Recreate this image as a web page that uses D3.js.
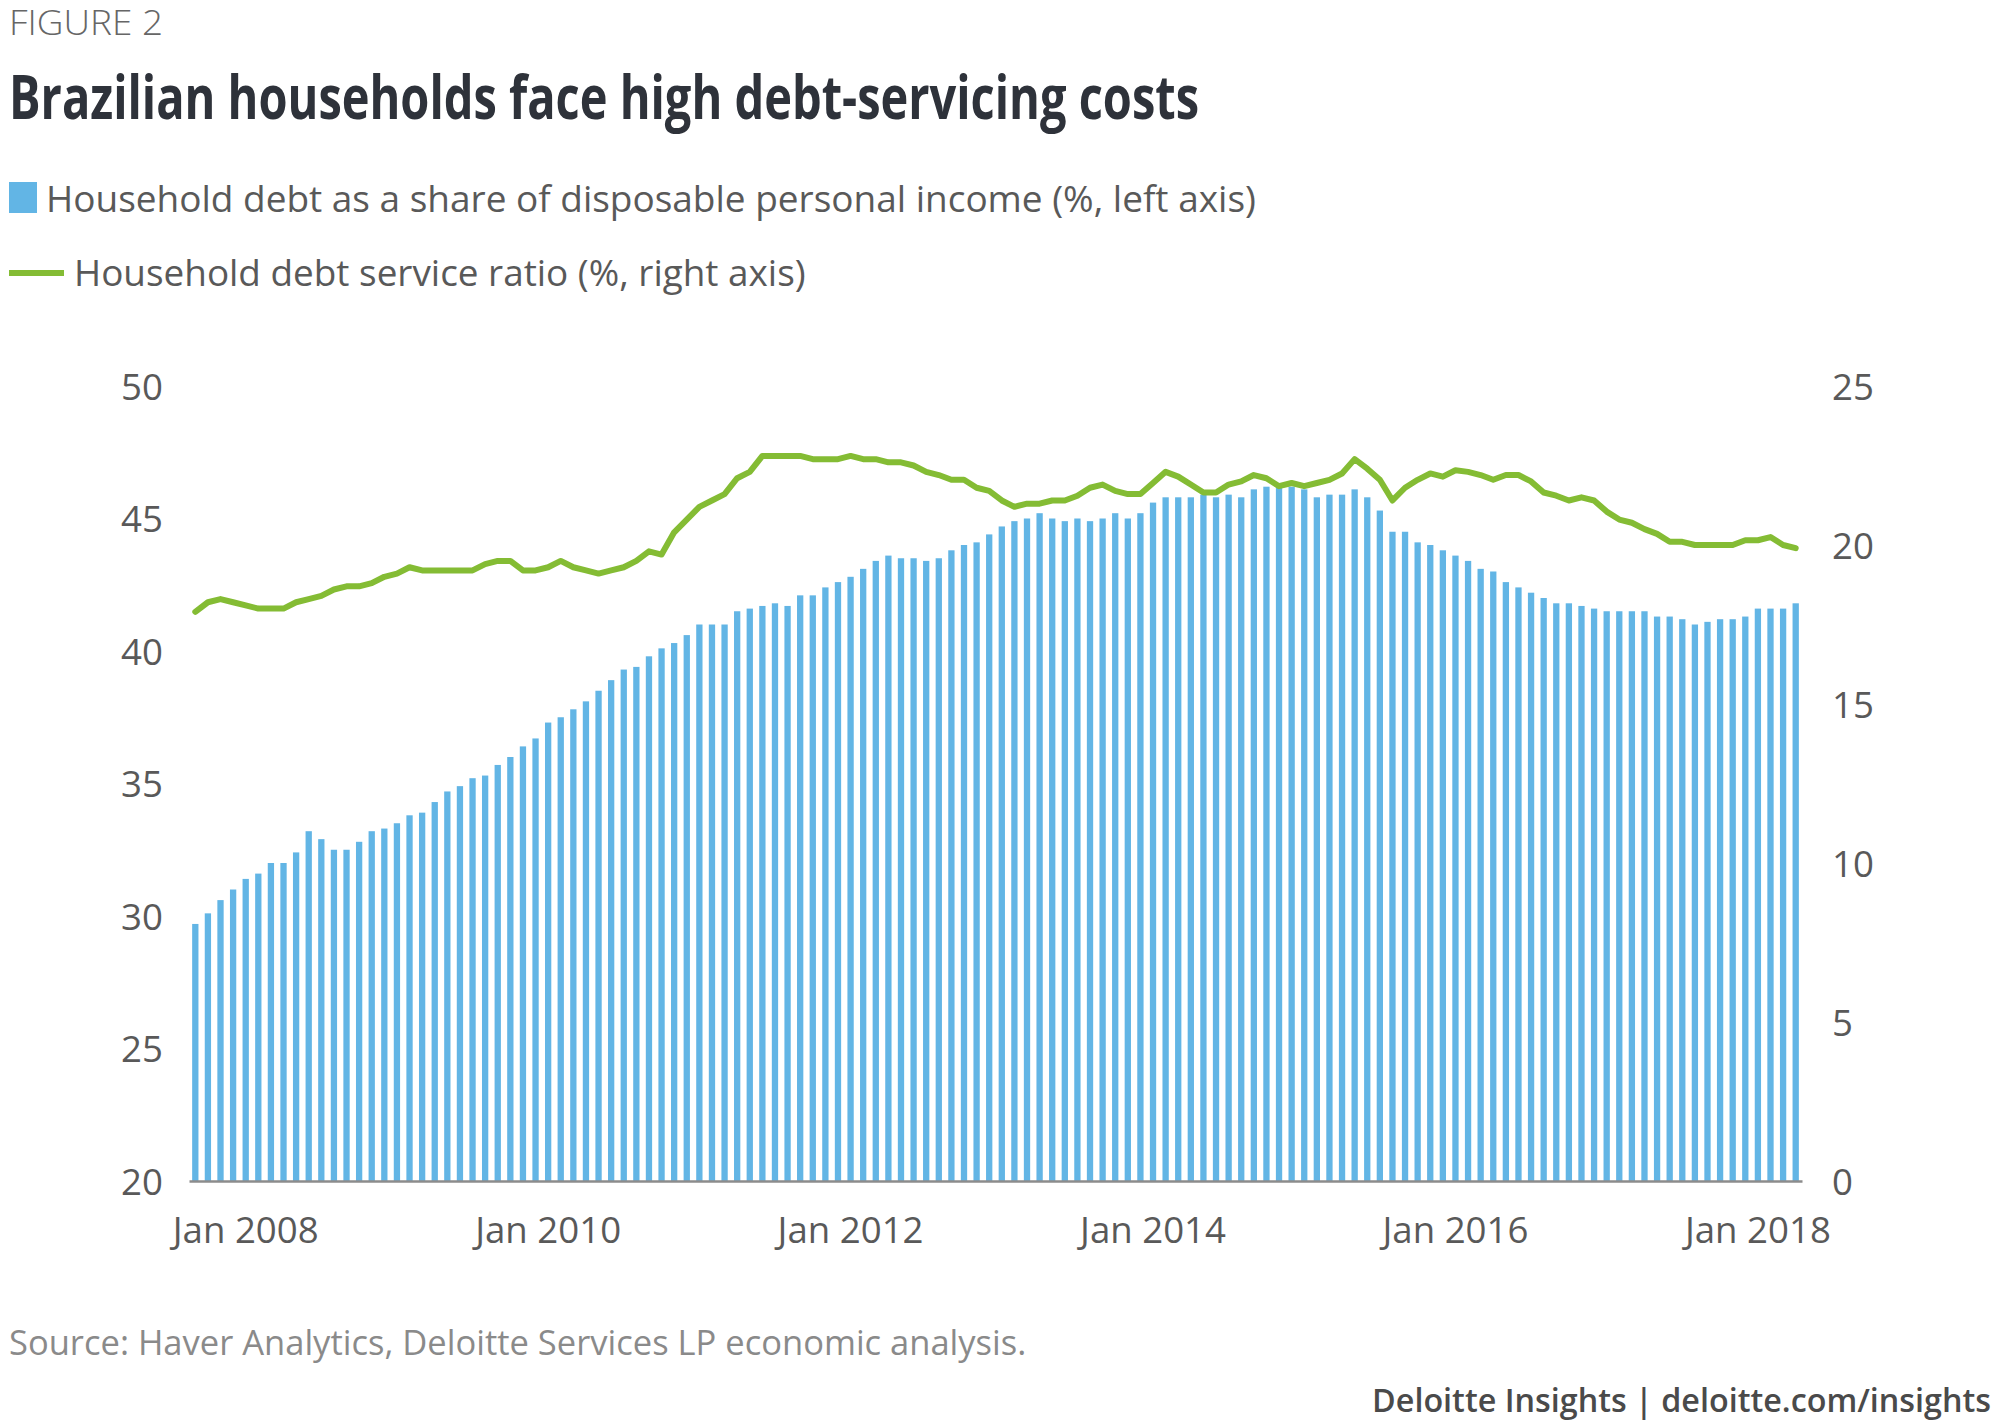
<!DOCTYPE html>
<html>
<head>
<meta charset="utf-8">
<script src="https://cdn.jsdelivr.net/npm/d3@7"></script>
<style>
  html, body { margin: 0; padding: 0; background: #ffffff; }
  svg { display: block; }
  text { font-family: "Open Sans", "Noto Sans", "DejaVu Sans", sans-serif; }
</style>
</head>
<body>
<svg id="chart" width="2000" height="1426"></svg>
<script>
// ---------------- DATA ----------------
// Monthly categories: Sep 2007 .. Apr 2018 (128 months)
const months = d3.timeMonth.range(new Date(2007, 8, 1), new Date(2018, 4, 1)).map(d3.timeFormat("%Y-%m"));

// Household debt as a share of disposable personal income (%, left axis)
const debtShare = [
  29.7, 30.1, 30.6, 31.0, 31.4, 31.6, 32.0, 32.0, 32.4, 33.2,
  32.9, 32.5, 32.5, 32.8, 33.2, 33.3, 33.5, 33.8, 33.9, 34.3,
  34.7, 34.9, 35.2, 35.3, 35.7, 36.0, 36.4, 36.7, 37.3, 37.5,
  37.8, 38.1, 38.5, 38.9, 39.3, 39.4, 39.8, 40.1, 40.3, 40.6,
  41.0, 41.0, 41.0, 41.5, 41.6, 41.7, 41.8, 41.7, 42.1, 42.1,
  42.4, 42.6, 42.8, 43.1, 43.4, 43.6, 43.5, 43.5, 43.4, 43.5,
  43.8, 44.0, 44.1, 44.4, 44.7, 44.9, 45.0, 45.2, 45.0, 44.9,
  45.0, 44.9, 45.0, 45.2, 45.0, 45.2, 45.6, 45.8, 45.8, 45.8,
  45.9, 45.8, 45.9, 45.8, 46.1, 46.2, 46.2, 46.2, 46.1, 45.8,
  45.9, 45.9, 46.1, 45.8, 45.3, 44.5, 44.5, 44.1, 44.0, 43.8,
  43.6, 43.4, 43.1, 43.0, 42.6, 42.4, 42.2, 42.0, 41.8, 41.8,
  41.7, 41.6, 41.5, 41.5, 41.5, 41.5, 41.3, 41.3, 41.2, 41.0,
  41.1, 41.2, 41.2, 41.3, 41.6, 41.6, 41.6, 41.8
];

// Household debt service ratio (%, right axis)
const serviceRatio = [
  17.9, 18.2, 18.3, 18.2, 18.1, 18.0, 18.0, 18.0, 18.2, 18.3,
  18.4, 18.6, 18.7, 18.7, 18.8, 19.0, 19.1, 19.3, 19.2, 19.2,
  19.2, 19.2, 19.2, 19.4, 19.5, 19.5, 19.2, 19.2, 19.3, 19.5,
  19.3, 19.2, 19.1, 19.2, 19.3, 19.5, 19.8, 19.7, 20.4, 20.8,
  21.2, 21.4, 21.6, 22.1, 22.3, 22.8, 22.8, 22.8, 22.8, 22.7,
  22.7, 22.7, 22.8, 22.7, 22.7, 22.6, 22.6, 22.5, 22.3, 22.2,
  22.05, 22.05, 21.8, 21.7, 21.4, 21.2, 21.3, 21.3, 21.4, 21.4,
  21.55, 21.8, 21.9, 21.7, 21.6, 21.6, 21.95, 22.3, 22.15, 21.9,
  21.65, 21.65, 21.9, 22.0, 22.2, 22.1, 21.85, 21.95, 21.85, 21.95,
  22.05, 22.25, 22.7, 22.4, 22.05, 21.4, 21.8, 22.05, 22.25, 22.15,
  22.35, 22.3, 22.2, 22.05, 22.2, 22.2, 22.0, 21.65, 21.55, 21.4,
  21.5, 21.4, 21.05, 20.8, 20.7, 20.5, 20.35, 20.1, 20.1, 20.0,
  20.0, 20.0, 20.0, 20.15, 20.15, 20.25, 20.0, 19.9
];

const leftTicks = [20, 25, 30, 35, 40, 45, 50];
const rightTicks = [0, 5, 10, 15, 20, 25];
const xTickMonths = ["2008-01", "2010-01", "2012-01", "2014-01", "2016-01", "2018-01"];
const xTickLabels = ["Jan 2008", "Jan 2010", "Jan 2012", "Jan 2014", "Jan 2016", "Jan 2018"];

const figureLabel = "FIGURE 2";
const titleText = "Brazilian households face high debt-servicing costs";
const legendBars = "Household debt as a share of disposable personal income (%, left axis)";
const legendLine = "Household debt service ratio (%, right axis)";
const sourceText = "Source: Haver Analytics, Deloitte Services LP economic analysis.";
const footerText = "Deloitte Insights | deloitte.com/insights";

// ---------------- LAYOUT ----------------
const BLUE = "#62b5e5";
const GREEN = "#84bc34";
const svg = d3.select("#chart");

const plotLeft = 189, plotRight = 1802, plotTop = 386, plotBottom = 1181;

const x = d3.scaleBand().domain(months).range([plotLeft, plotRight])
  .paddingInner(0.5).paddingOuter(0.25);
const yL = d3.scaleLinear().domain([20, 50]).range([plotBottom, plotTop]);
const yR = d3.scaleLinear().domain([0, 25]).range([plotBottom, plotTop]);

function fitWidth(sel, target) {
  const w = sel.node().getComputedTextLength();
  const fs = parseFloat(sel.attr("font-size"));
  sel.attr("font-size", fs * target / w);
  return fs * target / w;
}

// ---------------- HEADER ----------------
const fig = svg.append("text").attr("x", 9).attr("y", 35)
  .attr("font-size", 34).attr("font-weight", 300).attr("fill", "#666666")
  .text(figureLabel);
fig.attr("textLength", 154).attr("lengthAdjust", "spacingAndGlyphs");

const title = svg.append("text").attr("x", 9).attr("y", 119)
  .attr("font-size", 60).attr("font-weight", 700).attr("fill", "#2e323a")
  .text(titleText);
title.attr("textLength", 1190).attr("lengthAdjust", "spacingAndGlyphs");

// Legend
svg.append("rect").attr("x", 9).attr("y", 182).attr("width", 28).attr("height", 31).attr("fill", BLUE);
const lg1 = svg.append("text").attr("x", 46).attr("y", 212)
  .attr("font-size", 35).attr("fill", "#595959").text(legendBars);
fitWidth(lg1, 1210);

svg.append("line").attr("x1", 9).attr("x2", 64).attr("y1", 273).attr("y2", 273)
  .attr("stroke", GREEN).attr("stroke-width", 6);
const lg2 = svg.append("text").attr("x", 74).attr("y", 286)
  .attr("font-size", 35).attr("fill", "#595959").text(legendLine);
fitWidth(lg2, 732);

// ---------------- BARS ----------------
svg.append("g").selectAll("rect").data(debtShare).join("rect")
  .attr("x", (d, i) => x(months[i]))
  .attr("width", x.bandwidth())
  .attr("y", d => yL(d))
  .attr("height", d => yL(20) - yL(d))
  .attr("fill", BLUE);

// ---------------- LINE ----------------
const line = d3.line()
  .x((d, i) => x(months[i]) + x.bandwidth() / 2)
  .y(d => yR(d));
svg.append("path").datum(serviceRatio)
  .attr("d", line)
  .attr("fill", "none")
  .attr("stroke", GREEN)
  .attr("stroke-width", 6)
  .attr("stroke-linejoin", "round")
  .attr("stroke-linecap", "round");

// ---------------- AXES ----------------
const probe = svg.append("text").attr("font-size", 34).text(xTickLabels[0]);
const tickFs = fitWidth(probe, 146);
probe.remove();
const capH = 0.714 * tickFs;

const gx = svg.append("g").attr("transform", `translate(0,${plotBottom})`)
  .call(d3.axisBottom(x).tickValues(xTickMonths)
    .tickFormat(d => xTickLabels[xTickMonths.indexOf(d)])
    .tickSize(0).tickSizeOuter(0));
gx.select(".domain").attr("stroke", "#8c8c8c").attr("stroke-width", 2.5);
gx.selectAll("text").attr("y", 62).attr("dy", 0)
  .attr("font-size", tickFs).attr("fill", "#595959")
  .attr("font-family", "'Open Sans', 'Noto Sans', sans-serif");

const gl = svg.append("g").attr("transform", "translate(163,0)")
  .call(d3.axisLeft(yL).tickValues(leftTicks).tickSize(0).tickPadding(0));
gl.select(".domain").remove();
gl.selectAll("text").attr("dy", 0).attr("y", capH / 2)
  .attr("font-size", tickFs).attr("fill", "#595959")
  .attr("font-family", "'Open Sans', 'Noto Sans', sans-serif");

const gr = svg.append("g").attr("transform", "translate(1832,0)")
  .call(d3.axisRight(yR).tickValues(rightTicks).tickSize(0).tickPadding(0));
gr.select(".domain").remove();
gr.selectAll("text").attr("dy", 0).attr("y", capH / 2)
  .attr("font-size", tickFs).attr("fill", "#595959")
  .attr("font-family", "'Open Sans', 'Noto Sans', sans-serif");

// ---------------- FOOTER ----------------
const src = svg.append("text").attr("x", 9).attr("y", 1355)
  .attr("font-size", 30).attr("fill", "#8a8a8a").text(sourceText);
fitWidth(src, 1018);

const foot = svg.append("text").attr("x", 1991).attr("y", 1412)
  .attr("text-anchor", "end").attr("font-size", 30).attr("font-weight", 600)
  .attr("fill", "#4a4a4a").text(footerText);
fitWidth(foot, 619);
</script>
</body>
</html>
